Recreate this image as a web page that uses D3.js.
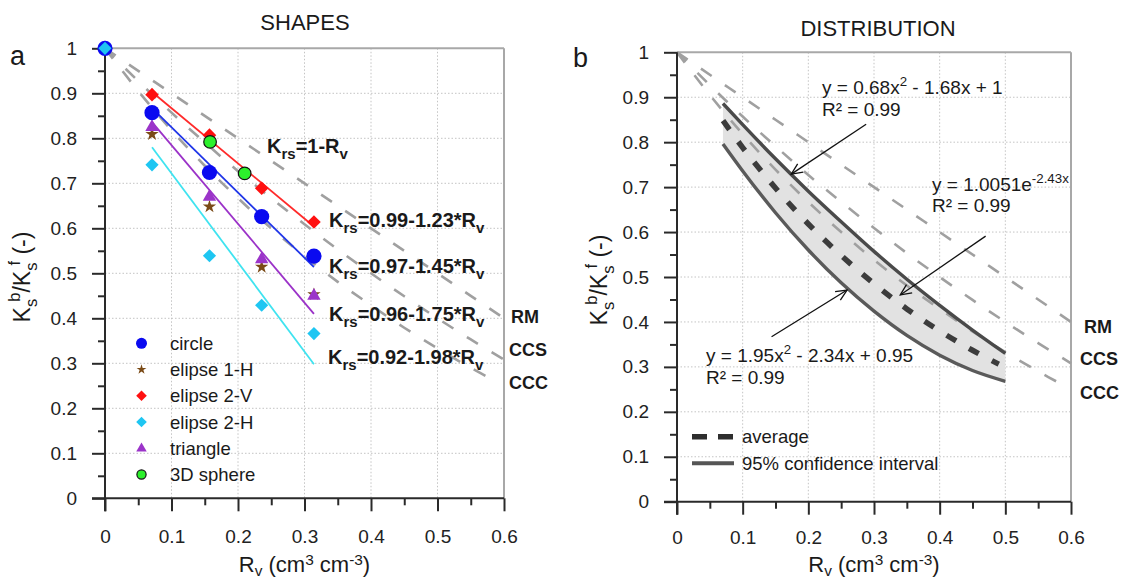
<!DOCTYPE html>
<html><head><meta charset="utf-8">
<script src="https://cdn.jsdelivr.net/npm/d3@7/dist/d3.min.js"></script>
<style>
body{margin:0;background:#fff}
svg{display:block;font-family:"Liberation Sans",Arial,sans-serif}
</style></head><body>
<svg id="c" width="1124" height="581"></svg>
<script>
// ---------- data ----------
const xTicks = [0, 0.1, 0.2, 0.3, 0.4, 0.5, 0.6];
const xMinor = [0.05, 0.15, 0.25, 0.35, 0.45, 0.55];
const yTicks = [0, 0.1, 0.2, 0.3, 0.4, 0.5, 0.6, 0.7, 0.8, 0.9, 1];
const yMinor = [0.05, 0.15, 0.25, 0.35, 0.45, 0.55, 0.65, 0.75, 0.85, 0.95];

// panel a: shapes
const shapeX    = [0, 0.0707, 0.1571, 0.2356, 0.3142];
const circleY   = [1, 0.857, 0.724, 0.626, 0.538];
const elipse1HY = [1, 0.809, 0.648, 0.514, 0.453];
const elipse2VY = [1, 0.897, 0.807, 0.689, 0.614];
const elipse2HY = [1, 0.741, 0.539, 0.429, 0.366];
const triangleY = [1, 0.825, 0.670, 0.531, 0.450];
const sphereX   = [0.158, 0.210];
const sphereY   = [0.792, 0.722];

// fitted lines (endpoints)
const fitX      = [0.0707, 0.3142];
const fitRedY   = [0.903, 0.604];
const fitBlueY  = [0.867, 0.514];
const fitPurpY  = [0.836, 0.410];
const fitCyanY  = [0.780, 0.298];

// reference models
const refX = [0, 0.05, 0.1, 0.15, 0.2, 0.25, 0.3, 0.35, 0.4, 0.45, 0.5, 0.55, 0.6];
const rmY  = [1, 0.95, 0.9, 0.85, 0.8, 0.75, 0.7, 0.65, 0.6, 0.55, 0.5, 0.45, 0.4];
const ccsY = [1, 0.927, 0.857, 0.791, 0.727, 0.667, 0.609, 0.553, 0.5, 0.449, 0.4, 0.353, 0.308];
const cccX = [0, 0.05, 0.1, 0.15, 0.2, 0.25, 0.3, 0.35, 0.4, 0.45, 0.5, 0.55, 0.59];
const cccY = [1, 0.905, 0.818, 0.739, 0.667, 0.6, 0.538, 0.481, 0.429, 0.379, 0.333, 0.290, 0.258];

// panel b: distribution
const bandX  = [0.07, 0.1, 0.15, 0.2, 0.25, 0.3, 0.35, 0.4, 0.45, 0.5];
const upperY = [0.886, 0.839, 0.763, 0.691, 0.623, 0.557, 0.495, 0.437, 0.382, 0.330];
const lowerY = [0.796, 0.736, 0.643, 0.560, 0.487, 0.424, 0.370, 0.326, 0.292, 0.268];
const avgX   = [0.07, 0.1, 0.15, 0.2, 0.25, 0.3, 0.35, 0.4, 0.45, 0.49];
const avgY   = [0.848, 0.788, 0.698, 0.618, 0.548, 0.485, 0.429, 0.380, 0.337, 0.306];

const legendA = ["circle", "elipse 1-H", "elipse 2-V", "elipse 2-H", "triangle", "3D sphere"];
const legendB = ["average", "95% confidence interval"];
const refLabels = ["RM", "CCS", "CCC"];

// ---------- drawing ----------
const svg = d3.select("#c");
const FONT = '"Liberation Sans", Arial, sans-serif';

function rich(parent, x, y, parts, size, opts = {}) {
  const t = parent.append("text").attr("x", x).attr("y", y)
    .attr("font-size", size).attr("fill", opts.fill || "#1a1a1a")
    .attr("font-weight", opts.weight || "normal")
    .attr("text-anchor", opts.anchor || "start");
  if (opts.transform) t.attr("transform", opts.transform);
  let cur = 0;
  const supShift = opts.sup || 0.42;
  const subShift = opts.sub || 0.3;
  parts.forEach(p => {
    const [s, k, dx] = p;
    const fs = k === 0 ? size : size * (opts.small || 0.7);
    const target = k === 0 ? 0 : (k === 1 ? size * subShift : -size * supShift);
    const ts = t.append("tspan").attr("font-size", fs).attr("dy", target - cur).text(s);
    if (dx) ts.attr("dx", dx);
    cur = target;
  });
  return t;
}

const fmt = d => d === 0 ? "0" : (d === 1 ? "1" : d3.format(".1f")(d));

function frame(x, y) {
  const g = svg.append("g");
  g.selectAll(null).data([0.1, 0.2, 0.3, 0.4, 0.5]).join("line")
    .attr("x1", d => x(d)).attr("x2", d => x(d)).attr("y1", y(1)).attr("y2", y(0))
    .attr("stroke", "#c4c4c4").attr("stroke-width", 1).attr("stroke-dasharray", "1.5,2");
  g.selectAll(null).data([0.1, 0.2, 0.3, 0.4, 0.5, 0.6, 0.7, 0.8, 0.9]).join("line")
    .attr("x1", x(0)).attr("x2", x(0.6)).attr("y1", d => y(d)).attr("y2", d => y(d))
    .attr("stroke", "#c4c4c4").attr("stroke-width", 1).attr("stroke-dasharray", "1.5,2");
  g.append("line").attr("x1", x(0)).attr("x2", x(0.6)).attr("y1", y(1)).attr("y2", y(1))
    .attr("stroke", "#a8a8a8").attr("stroke-width", 2);
  g.append("line").attr("x1", x(0.6)).attr("x2", x(0.6)).attr("y1", y(1)).attr("y2", y(0))
    .attr("stroke", "#a8a8a8").attr("stroke-width", 2);
  return g;
}

function axes(x, y, pad) {
  const g = svg.append("g");
  const style = s => {
    s.select(".domain").remove();
    s.selectAll(".tick line").attr("stroke", "#2a2a2a").attr("stroke-width", 2);
    s.selectAll(".tick text").attr("font-size", 19).attr("fill", "#222").attr("font-family", FONT);
  };
  g.append("g").attr("transform", `translate(0,${y(0)})`)
    .call(d3.axisBottom(x).tickValues(xTicks).tickSize(13).tickSizeOuter(0).tickPadding(pad).tickFormat(fmt)).call(style);
  g.append("g").attr("transform", `translate(0,${y(0)})`)
    .call(d3.axisBottom(x).tickValues(xMinor).tickSize(7).tickSizeOuter(0).tickFormat("")).call(style);
  g.append("g").attr("transform", `translate(${x(0)},0)`)
    .call(d3.axisLeft(y).tickValues(yTicks).tickSize(13).tickSizeOuter(0).tickPadding(15).tickFormat(fmt)).call(style);
  g.append("g").attr("transform", `translate(${x(0)},0)`)
    .call(d3.axisLeft(y).tickValues(yMinor).tickSize(7).tickSizeOuter(0).tickFormat("")).call(style);
  g.append("line").attr("x1", x(0) - 13).attr("x2", x(0.6)).attr("y1", y(0)).attr("y2", y(0))
    .attr("stroke", "#2a2a2a").attr("stroke-width", 2);
  g.append("line").attr("x1", x(0)).attr("x2", x(0)).attr("y1", y(1)).attr("y2", y(0) + 13)
    .attr("stroke", "#2a2a2a").attr("stroke-width", 2);
  return g;
}

function titles(x, y, ytx, yty, titleText, titleX, titleY, letter, lx, ly) {
  rich(svg, (x(0) + x(0.6)) / 2, 572,
    [["R", 0], ["v", 1], [" (cm", 0], ["3", 2], [" cm", 0], ["-3", 2], [")", 0]], 22,
    {anchor: "middle", small: 0.7, sup: 0.32, sub: 0.18});
  rich(svg, 0, 0,
    [["K", 0], ["s", 1], ["b", 2, -3], ["/K", 0], ["s", 1], ["f", 2, -3], [" (-)", 0]], 23,
    {anchor: "middle", transform: `translate(${ytx},${yty}) rotate(-90)`, small: 0.72});
  svg.append("text").attr("x", titleX).attr("y", titleY).attr("text-anchor", "middle")
    .attr("font-size", 22).attr("fill", "#1a1a1a").text(titleText);
  svg.append("text").attr("x", lx).attr("y", ly).attr("font-size", 27).attr("fill", "#1a1a1a").text(letter);
}

const diamond = h => `M0,${-h}L${h},0L0,${h}L${-h},0Z`;
const sym = (type, size) => d3.symbol().type(type).size(size)();
const pts = (xs, ys) => xs.map((v, i) => [v, ys[i]]);

// ================= PANEL A =================
const xa = d3.scaleLinear([0, 0.6], [105, 504]);
const ya = d3.scaleLinear([0, 1], [498.3, 48.3]);
frame(xa, ya);

const refLine = (x, y) => d3.line().x(d => x(d[0])).y(d => y(d[1])).curve(d3.curveCatmullRom);
function refCurves(x, y) {
  const g = svg.append("g").attr("fill", "none").attr("stroke", "#a0a0a0")
    .attr("stroke-width", 2.6).attr("stroke-dasharray", "13,16");
  g.append("path").attr("d", refLine(x, y)(pts(refX, rmY)));
  g.append("path").attr("d", refLine(x, y)(pts(refX, ccsY)));
  g.append("path").attr("d", refLine(x, y)(pts(cccX, cccY)));
}
refCurves(xa, ya);

const fitLine = d3.line().x(d => xa(d[0])).y(d => ya(d[1]));
[[fitRedY, "#ff2a2a"], [fitBlueY, "#2036e8"], [fitPurpY, "#9b32c8"], [fitCyanY, "#3fe3f0"]].forEach(([ys, c]) => {
  svg.append("path").attr("d", fitLine(pts(fitX, ys)))
    .attr("stroke", c).attr("stroke-width", 1.8).attr("fill", "none");
});

axes(xa, ya, 18);

const mk = svg.append("g");
const C = {circle: "#0a0af0", star: "#7a4a16", red: "#ff1010", cyan: "#1ec6f2", tri: "#9b34c9", green: "#2cf02c"};
mk.selectAll(null).data(pts(shapeX, elipse1HY)).join("path")
  .attr("d", sym(d3.symbolStar, 55)).attr("fill", C.star)
  .attr("transform", d => `translate(${xa(d[0])},${ya(d[1])})`);
mk.selectAll(null).data(pts(shapeX, triangleY)).join("path")
  .attr("d", sym(d3.symbolTriangle, 78)).attr("fill", C.tri)
  .attr("transform", d => `translate(${xa(d[0])},${ya(d[1])})`);
mk.selectAll(null).data(pts(shapeX, elipse2VY)).join("path")
  .attr("d", diamond(6.8)).attr("fill", C.red)
  .attr("transform", d => `translate(${xa(d[0])},${ya(d[1])})`);
mk.selectAll(null).data(pts(shapeX, circleY)).join("circle")
  .attr("r", 7.6).attr("fill", C.circle)
  .attr("cx", d => xa(d[0])).attr("cy", d => ya(d[1]));
mk.selectAll(null).data(pts(shapeX, elipse2HY)).join("path")
  .attr("d", diamond(6.6)).attr("fill", C.cyan)
  .attr("transform", d => `translate(${xa(d[0])},${ya(d[1])})`);
mk.selectAll(null).data(pts(sphereX, sphereY)).join("circle")
  .attr("r", 6.3).attr("fill", C.green).attr("stroke", "#111").attr("stroke-width", 1.2)
  .attr("cx", d => xa(d[0])).attr("cy", d => ya(d[1]));

// legend a
const lgA = svg.append("g");
const lgY = [343.3, 369.5, 395.8, 422, 448.5, 474.5];
const lgMarks = [
  g => g.append("circle").attr("r", 5.5).attr("fill", C.circle),
  g => g.append("path").attr("d", sym(d3.symbolStar, 30)).attr("fill", C.star),
  g => g.append("path").attr("d", diamond(5.3)).attr("fill", C.red),
  g => g.append("path").attr("d", diamond(5.3)).attr("fill", C.cyan),
  g => g.append("path").attr("d", sym(d3.symbolTriangle, 48)).attr("fill", C.tri),
  g => g.append("circle").attr("r", 4.6).attr("fill", C.green).attr("stroke", "#111").attr("stroke-width", 1.2)
];
legendA.forEach((name, i) => {
  const g = lgA.append("g").attr("transform", `translate(141.5,${lgY[i]})`);
  lgMarks[i](g);
  lgA.append("text").attr("x", 170).attr("y", lgY[i]).attr("dy", "0.36em")
    .attr("font-size", 18.5).attr("fill", "#1a1a1a").text(name);
});

// annotations a
const kb = {weight: "bold", small: 0.75};
rich(svg, 267, 153, [["K", 0], ["rs", 1], ["=1-R", 0], ["v", 1]], 20, kb);
rich(svg, 329, 227, [["K", 0], ["rs", 1], ["=0.99-1.23*R", 0], ["v", 1]], 20, kb);
rich(svg, 329, 273, [["K", 0], ["rs", 1], ["=0.97-1.45*R", 0], ["v", 1]], 20, kb);
rich(svg, 329, 321, [["K", 0], ["rs", 1], ["=0.96-1.75*R", 0], ["v", 1]], 20, kb);
rich(svg, 328, 364, [["K", 0], ["rs", 1], ["=0.92-1.98*R", 0], ["v", 1]], 20, kb);
[[511, 323], [509, 356], [509, 389]].forEach((p, i) => {
  svg.append("text").attr("x", p[0]).attr("y", p[1]).attr("font-size", 18).attr("font-weight", "bold")
    .attr("fill", "#1a1a1a").text(refLabels[i]);
});
titles(xa, ya, 30, 277, "SHAPES", 305, 30, "a", 10, 65);

// ================= PANEL B =================
const xb = d3.scaleLinear([0, 0.6], [677, 1071]);
const yb = d3.scaleLinear([0, 1], [501.7, 52.3]);
frame(xb, yb);

const band = d3.area().x(d => xb(d[0])).y0(d => yb(d[1])).y1(d => yb(d[2])).curve(d3.curveMonotoneX);
svg.append("path").attr("d", band(bandX.map((v, i) => [v, lowerY[i], upperY[i]])))
  .attr("fill", "#e2e2e2");
refCurves(xb, yb);
const lb = d3.line().x(d => xb(d[0])).y(d => yb(d[1])).curve(d3.curveMonotoneX);
svg.append("path").attr("d", lb(pts(bandX, upperY))).attr("fill", "none").attr("stroke", "#4a4a4a").attr("stroke-width", 3.4);
svg.append("path").attr("d", lb(pts(bandX, lowerY))).attr("fill", "none").attr("stroke", "#5a5a5a").attr("stroke-width", 3.4);
svg.append("path").attr("d", lb(pts(avgX, avgY))).attr("fill", "none").attr("stroke", "#3c3c3c")
  .attr("stroke-width", 5.5).attr("stroke-dasharray", "11,15").attr("stroke-linecap", "butt");

axes(xb, yb, 16);

// arrows
svg.append("defs").append("marker").attr("id", "ah").attr("viewBox", "-1 -6 13 12")
  .attr("refX", 11).attr("refY", 0).attr("markerWidth", 13).attr("markerHeight", 12)
  .attr("markerUnits", "userSpaceOnUse").attr("orient", "auto")
  .append("path").attr("d", "M0,-5L11,0L0,5").attr("fill", "none").attr("stroke", "#111").attr("stroke-width", 1.3);
const arrows = [[0.288, 0.840, 0.174, 0.729], [0.470, 0.591, 0.340, 0.460], [0.144, 0.367, 0.259, 0.471]];
arrows.forEach(a => {
  svg.append("line").attr("x1", xb(a[0])).attr("y1", yb(a[1])).attr("x2", xb(a[2])).attr("y2", yb(a[3]))
    .attr("stroke", "#111").attr("stroke-width", 1.3).attr("marker-end", "url(#ah)");
});

// equations
rich(svg, 822, 94, [["y = 0.68x", 0], ["2", 2], [" - 1.68x + 1", 0]], 19);
svg.append("text").attr("x", 822).attr("y", 116).attr("font-size", 19).attr("fill", "#1a1a1a").text("R² = 0.99");
rich(svg, 932, 191, [["y = 1.0051e", 0], ["-2.43x", 2]], 19);
svg.append("text").attr("x", 932).attr("y", 212).attr("font-size", 19).attr("fill", "#1a1a1a").text("R² = 0.99");
rich(svg, 706, 362, [["y = 1.95x", 0], ["2", 2], [" - 2.34x + 0.95", 0]], 19);
svg.append("text").attr("x", 706).attr("y", 384).attr("font-size", 19).attr("fill", "#1a1a1a").text("R² = 0.99");

// legend b
svg.append("line").attr("x1", 692).attr("x2", 734).attr("y1", 436.7).attr("y2", 436.7)
  .attr("stroke", "#2e2e2e").attr("stroke-width", 5.5).attr("stroke-dasharray", "15,11");
svg.append("line").attr("x1", 692).attr("x2", 734).attr("y1", 463.3).attr("y2", 463.3)
  .attr("stroke", "#555").attr("stroke-width", 4);
svg.append("text").attr("x", 742).attr("y", 436.7).attr("dy", "0.36em").attr("font-size", 18.5).attr("fill", "#1a1a1a").text(legendB[0]);
svg.append("text").attr("x", 742).attr("y", 463.3).attr("dy", "0.36em").attr("font-size", 18.5).attr("fill", "#1a1a1a").text(legendB[1]);

[[1084, 333], [1080, 365], [1080, 399]].forEach((p, i) => {
  svg.append("text").attr("x", p[0]).attr("y", p[1]).attr("font-size", 18).attr("font-weight", "bold")
    .attr("fill", "#1a1a1a").text(refLabels[i]);
});
titles(xb, yb, 607, 280, "DISTRIBUTION", 878, 36, "b", 573, 67);
</script>
</body></html>
